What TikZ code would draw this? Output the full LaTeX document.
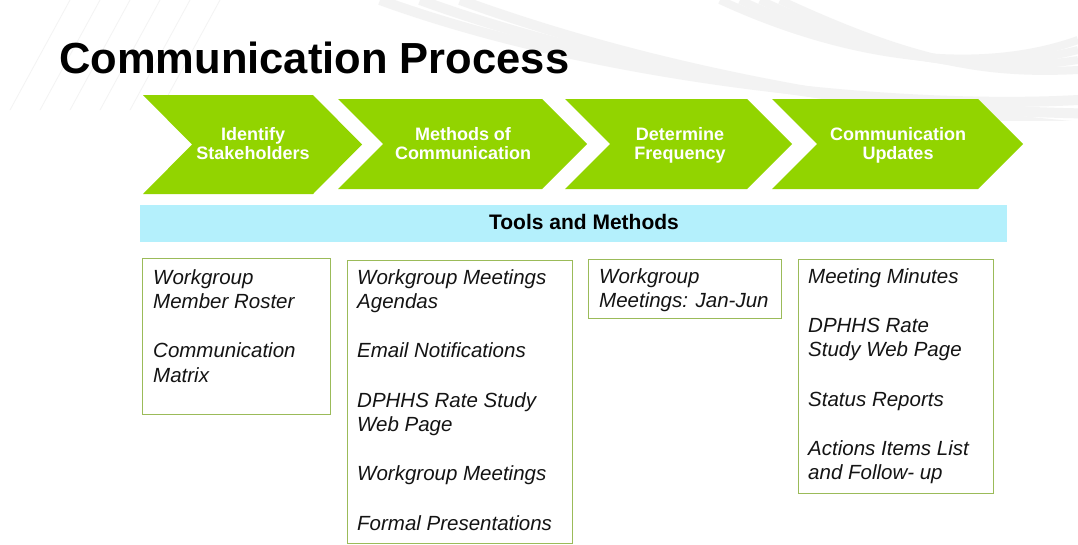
\documentclass[tikz,border=0pt]{standalone}
\usepackage{fontspec}
\setmainfont{Liberation Sans}
\definecolor{chev}{RGB}{146,212,0}
\definecolor{barblue}{RGB}{180,240,252}
\definecolor{boxline}{RGB}{155,187,89}
\definecolor{txt}{RGB}{20,20,20}
\definecolor{swoosh}{RGB}{243,243,243}
\begin{document}
\begin{tikzpicture}[x=1pt,y=-1pt,
  chevtext/.style={text=white, font=\fontsize{18}{19}\selectfont\bfseries, align=center, inner sep=0},
  toolbox/.style={draw=boxline, line width=1.2pt, anchor=north west, inner sep=0},
  itemtext/.style={text=txt, font=\fontsize{20.5}{24.6}\selectfont\itshape, align=left, anchor=north west, inner sep=0},
  bg/.style={swoosh, line width=8pt}]
\useasboundingbox (0,0) rectangle (1078,544);
\fill[white] (0,0) rectangle (1078,544);
% faint background swooshes
\begin{scope}
\clip (0,0) rectangle (1078,120);
\foreach \d in {0,20,40,60}{
  \draw[bg] (720+\d,0) .. controls (850+\d,60) and (980,75) .. (1078,40+\d/2);
}
\foreach \d in {0,40,80}{
  \draw[bg, line width=10pt] (380+\d,0) .. controls (600+\d,80) and (900,110) .. (1078,100+\d/3);
}
\foreach \d in {0,30,60,90,120,150}{
  \draw[swoosh, line width=0.8pt] (10+\d,110) -- (70+\d,0);
}
\end{scope}
% title
\node[anchor=base west, inner sep=0, font=\fontsize{43.5}{50}\selectfont\bfseries] (title) at (59,73) {Communication Process};
% chevrons
\fill[chev] (143,95) -- (313,95) -- (362,144.5) -- (313,194) -- (143,194) -- (192,144.5) -- cycle;
\fill[chev] (338,99) -- (542,99) -- (587,144) -- (542,189) -- (338,189) -- (383,144) -- cycle;
\fill[chev] (565,99) -- (747,99) -- (792,144) -- (747,189) -- (565,189) -- (610,144) -- cycle;
\fill[chev] (772,99) -- (978,99) -- (1023,144) -- (978,189) -- (772,189) -- (817,144) -- cycle;
\node[chevtext] (c1) at (253,144) {Identify\\Stakeholders};
\node[chevtext] (c2) at (463,144) {Methods of\\Communication};
\node[chevtext] (c3) at (680,145) {Determine\\Frequency};
\node[chevtext] (c4) at (898,145) {Communication\\Updates};
% tools bar
\node[fill=barblue, minimum width=867, minimum height=37, anchor=north west, inner sep=0] (bar) at (140,205) {};
\node[font=\fontsize{21}{24}\selectfont\bfseries, inner sep=0] (bartext) at (584,222) {Tools and Methods};
% boxes
\node[toolbox, minimum width=188, minimum height=156] (b1) at (142,258) {};
\node[toolbox, minimum width=225, minimum height=283] (b2) at (347,260) {};
\node[toolbox, minimum width=193, minimum height=59] (b3) at (588,259) {};
\node[toolbox, minimum width=195, minimum height=234] (b4) at (798,259) {};
\node[itemtext] (t1) at (153,269) {Workgroup\\Member Roster\\[24.6pt]Communication\\Matrix};
\node[itemtext] (t2) at (357,269) {Workgroup Meetings\\Agendas\\[24.6pt]Email Notifications\\[24.6pt]DPHHS Rate Study\\Web Page\\[24.6pt]Workgroup Meetings\\[24.6pt]Formal Presentations};
\node[itemtext] (t3) at (599,268) {Workgroup\\Meetings: Jan-Jun};
\node[itemtext] (t4) at (808,268) {Meeting Minutes\\[24.6pt]DPHHS Rate\\Study Web Page\\[24.6pt]Status Reports\\[24.6pt]Actions Items List\\and Follow- up};
\end{tikzpicture}
\end{document}
